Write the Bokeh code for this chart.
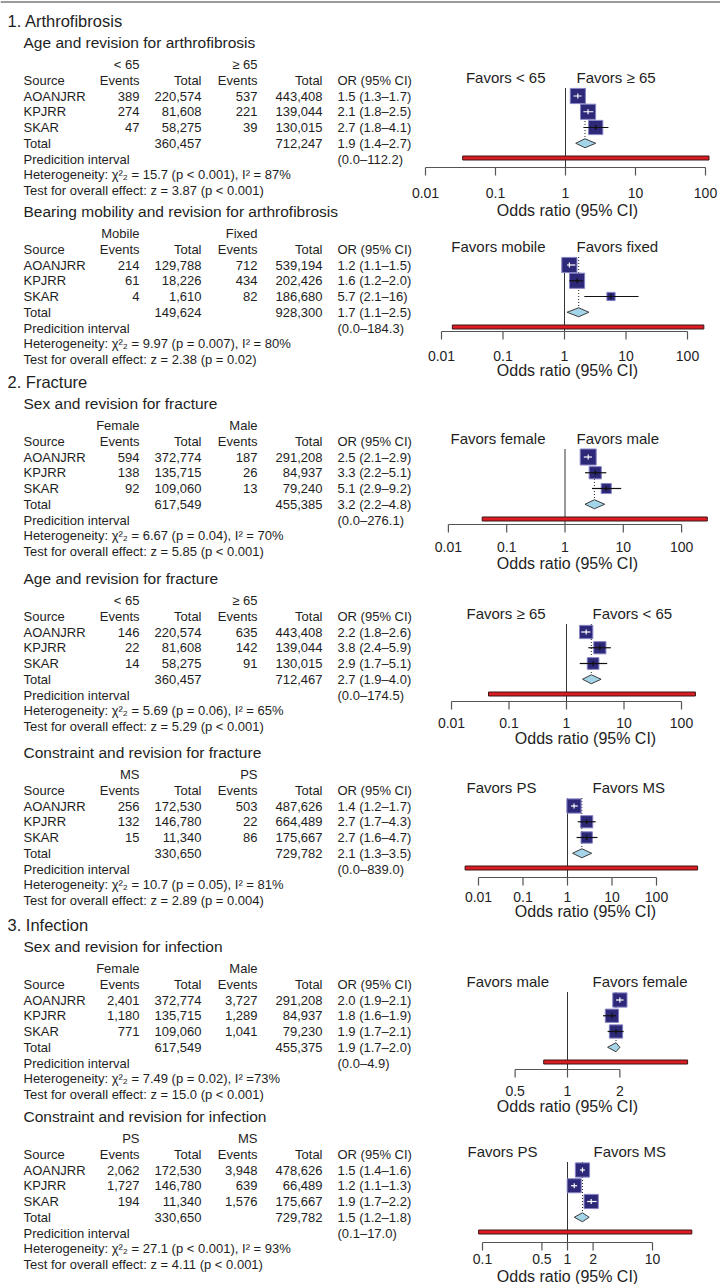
import math
from bokeh.plotting import figure
from bokeh.models import Range1d, LogScale
from bokeh.core.properties import value
from bokeh.embed import file_html
from bokeh.resources import INLINE

# ---------------- data ----------------
section_titles = ["1. Arthrofibrosis", "2. Fracture", "3. Infection"]
section_start = [0, 2, 5]
panel_titles = ["Age and revision for arthrofibrosis",
                "Bearing mobility and revision for arthrofibrosis",
                "Sex and revision for fracture",
                "Age and revision for fracture",
                "Constraint and revision for fracture",
                "Sex and revision for infection",
                "Constraint and revision for infection"]
group_a = ["< 65", "Mobile", "Female", "< 65", "MS", "Female", "PS"]
group_b = ["\u2265 65", "Fixed", "Male", "\u2265 65", "PS", "Male", "MS"]
favors_left = ["Favors < 65", "Favors mobile", "Favors female", "Favors \u2265 65",
               "Favors PS", "Favors male", "Favors PS"]
favors_right = ["Favors \u2265 65", "Favors fixed", "Favors male", "Favors < 65",
                "Favors MS", "Favors female", "Favors MS"]
sources = ["AOANJRR", "KPJRR", "SKAR"]

events_a = [[389, 274, 47], [214, 61, 4], [594, 138, 92], [146, 22, 14],
            [256, 132, 15], [2401, 1180, 771], [2062, 1727, 194]]
total_a = [[220574, 81608, 58275], [129788, 18226, 1610], [372774, 135715, 109060],
           [220574, 81608, 58275], [172530, 146780, 11340], [372774, 135715, 109060],
           [172530, 146780, 11340]]
events_b = [[537, 221, 39], [712, 434, 82], [187, 26, 13], [635, 142, 91],
            [503, 22, 86], [3727, 1289, 1041], [3948, 639, 1576]]
total_b = [[443408, 139044, 130015], [539194, 202426, 186680], [291208, 84937, 79240],
           [443408, 139044, 130015], [487626, 664489, 175667], [291208, 84937, 79230],
           [478626, 66489, 175667]]
pooled_a = [360457, 149624, 617549, 360457, 330650, 617549, 330650]
pooled_b = [712247, 928300, 455385, 712467, 729782, 455375, 729782]

or_est = [[1.5, 2.1, 2.7], [1.2, 1.6, 5.7], [2.5, 3.3, 5.1], [2.2, 3.8, 2.9],
          [1.4, 2.7, 2.7], [2.0, 1.8, 1.9], [1.5, 1.2, 1.9]]
or_lo = [[1.3, 1.8, 1.8], [1.1, 1.2, 2.1], [2.1, 2.2, 2.9], [1.8, 2.4, 1.7],
         [1.2, 1.7, 1.6], [1.9, 1.6, 1.7], [1.4, 1.1, 1.7]]
or_hi = [[1.7, 2.5, 4.1], [1.5, 2.0, 16], [2.9, 5.1, 9.2], [2.6, 5.9, 5.1],
         [1.7, 4.3, 4.7], [2.1, 1.9, 2.1], [1.6, 1.3, 2.2]]
weights = [[34, 34, 30], [34, 34, 10], [38, 22, 15], [26, 22, 20],
           [30, 22, 19], [30, 26, 26], [30, 29, 30]]

sum_est = [1.9, 1.7, 3.2, 2.7, 2.1, 1.9, 1.5]
sum_lo = [1.4, 1.1, 2.2, 1.9, 1.3, 1.7, 1.2]
sum_hi = [2.7, 2.5, 4.8, 4.0, 3.5, 2.0, 1.8]
pi_lo = [0.034, 0.015, 0.038, 0.044, 0.005, 0.73, 0.09]
pi_hi = [112.2, 184.3, 276.1, 174.5, 839.0, 4.9, 29.0]
pi_text = ["(0.0\u2013112.2)", "(0.0\u2013184.3)", "(0.0\u2013276.1)", "(0.0\u2013174.5)",
           "(0.0\u2013839.0)", "(0.0\u20134.9)", "(0.1\u201317.0)"]
het_chi = ["15.7", "9.97", "6.67", "5.69", "10.7", "7.49", "27.1"]
het_p = ["p < 0.001", "p = 0.007", "p = 0.04", "p = 0.06", "p = 0.05", "p = 0.02", "p < 0.001"]
het_i2 = ["= 87%", "= 80%", "= 70%", "= 65%", "= 81%", "=73%", "= 93%"]
z_val = ["3.87", "2.38", "5.85", "5.29", "2.89", "15.0", "4.11"]
z_p = ["p < 0.001", "p = 0.02", "p < 0.001", "p < 0.001", "p = 0.004", "p < 0.001", "p < 0.001"]

tick_values = [[0.01, 0.1, 1, 10, 100]] * 5 + [[0.5, 1, 2], [0.1, 0.5, 1, 2, 10]]
tick_labels = [["0.01", "0.1", "1", "10", "100"]] * 5 + [["0.5", "1", "2"],
                                                          ["0.1", "0.5", "1", "2", "10"]]

# ---------------- layout (reference image pixels) ----------------
W, H = 720, 1284
sub_y = [42, 211, 403, 578, 752, 946, 1116]
axis_y = [167, 331, 524, 701, 877, 1069, 1242]
ticklab_y = [192, 355, 546, 722, 896, 1090, 1258]
xlab_y = [210, 370, 563, 738, 911, 1106, 1276]
xlab_x = [567, 567, 567, 585, 585, 567, 567]
one_x = [565, 564, 564.5, 566, 567, 567, 567]
dec_px = [70, 61.5, 58.3, 57.5, 44.5, 174, 85]
fav_lx = [545, 545, 545, 466, 466, 466, 467]
fav_lalign = ["right", "right", "right", "left", "left", "left", "left"]
fav_rx = [576, 576, 576, 592, 592, 592, 593]
X_SRC, X_EV1, X_TOT1, X_EV2, X_TOT2, X_OR = 23, 139, 201, 257, 322, 337

FONT = value("Liberation Sans")
INK = "#1e1e1e"
BOX_FILL = "#2d2878"
BOX_LINE = "#8784c6"
DIAMOND = "#a3d4e8"
RED = "#dc1c22"

p = figure(width=W, height=H, x_range=Range1d(0, W), y_range=Range1d(H, 0),
           x_axis_location=None, y_axis_location=None, output_backend="svg",
           toolbar_location=None, min_border=0)
p.grid.visible = False
p.outline_line_color = None


def txt(xs, ys, texts, size="13px", align="left", color=INK, xr=None):
    kw = {}
    if xr is not None:
        kw["x_range_name"] = xr
    p.text(x=xs, y=ys, text=texts, text_font=FONT, text_font_size=size,
           text_align=align, text_baseline="middle", text_color=color, **kw)


def fmt(v):
    return f"{v:.0f}" if v >= 10 else f"{v:.1f}"


# top rule
p.segment(x0=[0], x1=[W], y0=[1.5], y1=[1.5], line_color="#9a9a9a", line_width=2)

for s, k0 in enumerate(section_start):
    txt([7], [sub_y[k0] - 22], [section_titles[s]], size="16.5px")

for k in range(7):
    sy = sub_y[k]
    h1 = sy + 22
    h2 = sy + 37.5
    rows = [sy + 53.5 + i * 15.75 for i in range(7)]

    # ---- table ----
    txt([X_SRC], [sy], [panel_titles[k]], size="15.5px")
    txt([X_EV1, X_EV2], [h1] * 2, [group_a[k], group_b[k]], align="right")
    txt([X_SRC], [h2], ["Source"])
    txt([X_EV1, X_TOT1, X_EV2, X_TOT2], [h2] * 4,
        ["Events", "Total", "Events", "Total"], align="right")
    txt([X_OR], [h2], ["OR (95% CI)"])

    ry = rows[:3]
    txt([X_SRC] * 3, ry, sources)
    txt([X_EV1] * 3, ry, [f"{v:,}" for v in events_a[k]], align="right")
    txt([X_TOT1] * 3, ry, [f"{v:,}" for v in total_a[k]], align="right")
    txt([X_EV2] * 3, ry, [f"{v:,}" for v in events_b[k]], align="right")
    txt([X_TOT2] * 3, ry, [f"{v:,}" for v in total_b[k]], align="right")
    txt([X_OR] * 3, ry, [f"{e:.1f} ({l:.1f}\u2013{fmt(h)})"
                         for e, l, h in zip(or_est[k], or_lo[k], or_hi[k])])
    txt([X_SRC], [rows[3]], ["Total"])
    txt([X_TOT1, X_TOT2], [rows[3]] * 2,
        [f"{pooled_a[k]:,}", f"{pooled_b[k]:,}"], align="right")
    txt([X_OR], [rows[3]],
        [f"{sum_est[k]:.1f} ({sum_lo[k]:.1f}\u2013{fmt(sum_hi[k])})"])
    txt([X_SRC], [rows[4]], ["Predicition interval"])
    txt([X_OR], [rows[4]], [pi_text[k]])
    txt([X_SRC], [rows[5]],
        [f"Heterogeneity: \u03c7\u00b2\u2082 = {het_chi[k]} ({het_p[k]}), I\u00b2 {het_i2[k]}"])
    txt([X_SRC], [rows[6]], [f"Test for overall effect: z = {z_val[k]} ({z_p[k]})"])

    # ---- forest ----
    name = f"f{k}"
    x1 = one_x[k]
    dec = dec_px[k]
    p.extra_x_ranges[name] = Range1d(10 ** (-x1 / dec), 10 ** ((W - x1) / dec))
    p.extra_x_scales[name] = LogScale()

    top = rows[0] - 8
    ay = axis_y[k]
    # favours labels
    txt([fav_lx[k]], [h2 - 3], [favors_left[k]], size="15px", align=fav_lalign[k])
    txt([fav_rx[k]], [h2 - 3], [favors_right[k]], size="15px")

    # reference line at OR = 1 and dotted line at pooled estimate
    p.segment(x0=[1], x1=[1], y0=[top], y1=[ay], line_color="#333333", line_width=1,
              x_range_name=name)
    p.segment(x0=[sum_est[k]], x1=[sum_est[k]], y0=[top], y1=[rows[3] - 4],
              line_color="#222222", line_width=1, line_dash="1 2", x_range_name=name)

    # study boxes
    sizes = [2.6 * math.sqrt(w) for w in weights[k]]
    p.scatter(x=or_est[k], y=ry, marker="square", size=sizes, fill_color=BOX_FILL,
              line_color=BOX_LINE, line_width=1, x_range_name=name)
    cols = []
    for e, l, h, s in zip(or_est[k], or_lo[k], or_hi[k], sizes):
        inside = (math.log10(e / l) * dec <= s / 2) and (math.log10(h / e) * dec <= s / 2)
        cols.append("white" if inside else "#111111")
    p.segment(x0=or_lo[k], x1=or_hi[k], y0=ry, y1=ry, line_color=cols, line_width=1.2,
              x_range_name=name)
    p.segment(x0=or_est[k], x1=or_est[k], y0=[y - 2.5 for y in ry], y1=[y + 2.5 for y in ry],
              line_color=cols, line_width=1.2, x_range_name=name)

    # pooled diamond
    ty = rows[3]
    p.patch(x=[sum_lo[k], sum_est[k], sum_hi[k], sum_est[k]],
            y=[ty, ty - 4.5, ty, ty + 4.5], fill_color=DIAMOND, line_color="#3c3c3c",
            line_width=1, x_range_name=name)

    # prediction interval bar
    py = rows[4] - 1
    p.quad(left=[pi_lo[k]], right=[pi_hi[k]], top=[py - 2], bottom=[py + 2],
           fill_color=RED, line_color="#3a1515", line_width=1, x_range_name=name)

    # axis
    tv = tick_values[k]
    p.segment(x0=[tv[0]], x1=[tv[-1]], y0=[ay], y1=[ay], line_color="#555555",
              line_width=1.2, x_range_name=name)
    p.segment(x0=tv, x1=tv, y0=[ay] * len(tv), y1=[ay + 8] * len(tv),
              line_color="#555555", line_width=1.2, x_range_name=name)
    txt(tv, [ticklab_y[k]] * len(tv), tick_labels[k], size="14px", align="center",
        xr=name)
    txt([xlab_x[k]], [xlab_y[k]], ["Odds ratio (95% CI)"], size="16px", align="center")

open("out.html", "w").write(file_html(p, INLINE))
